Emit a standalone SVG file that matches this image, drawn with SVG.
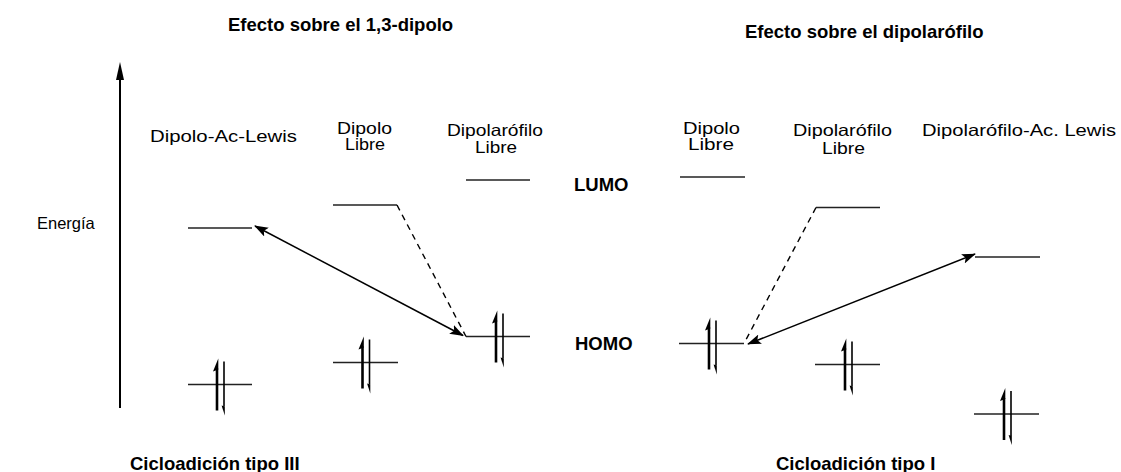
<svg xmlns="http://www.w3.org/2000/svg" width="1121" height="472" viewBox="0 0 1121 472">
  <style>
    .lbl { font-family: "Liberation Sans", Arial, sans-serif; font-size: 16.5px; fill: #000; }
    .ttl { font-family: "Liberation Sans", Arial, sans-serif; font-size: 18.5px; font-weight: bold; fill: #000; }
    .lvl { stroke: #222; stroke-width: 1.4; fill: none; }
    .dash { stroke: #000; stroke-width: 1.4; stroke-dasharray: 6 5; fill: none; }
    .arr { stroke: #000; stroke-width: 1.5; fill: none; }
    .up { stroke: #000; stroke-width: 2.6; }
    .dn { stroke: #000; stroke-width: 1.6; }
  </style>
  <defs>
    <marker id="head" viewBox="0 0 14 10" refX="13" refY="5" markerWidth="14" markerHeight="10" markerUnits="userSpaceOnUse" orient="auto-start-reverse">
      <path d="M0,0 L14,5 L0,10 L3,5 Z" fill="#000"/>
    </marker>
    <!-- electron pair: up and down half-arrows, origin at centre of level line -->
    <g id="pair">
      <line class="up" x1="-3" y1="26" x2="-3" y2="-16"/>
      <polygon points="-1.7,-26 -7,-13 -1.7,-15" fill="#000"/>
      <line class="dn" x1="4" y1="-23" x2="4" y2="22"/>
      <polygon points="4.8,31 1.6,21 4.8,22" fill="#000"/>
    </g>
  </defs>

  <!-- titles -->
  <text class="ttl" x="228" y="31">Efecto sobre el 1,3-dipolo</text>
  <text class="ttl" x="745" y="38">Efecto sobre el dipolarófilo</text>

  <!-- energy axis -->
  <g id="axis">
    <line x1="120" y1="408" x2="120" y2="76" stroke="#000" stroke-width="2"/>
    <polygon points="120,62 116,80 124,80" fill="#000"/>
    <text class="lbl" x="37" y="229">Energía</text>
  </g>

  <!-- column labels -->
  <text class="lbl" x="150" y="142" textLength="147" lengthAdjust="spacingAndGlyphs">Dipolo-Ac-Lewis</text>
  <text class="lbl" x="337" y="134" textLength="55" lengthAdjust="spacingAndGlyphs">Dipolo</text>
  <text class="lbl" x="345" y="150" textLength="40" lengthAdjust="spacingAndGlyphs">Libre</text>
  <text class="lbl" x="447" y="136" textLength="96" lengthAdjust="spacingAndGlyphs">Dipolarófilo</text>
  <text class="lbl" x="475" y="153" textLength="42" lengthAdjust="spacingAndGlyphs">Libre</text>
  <text class="lbl" x="683" y="134" textLength="57" lengthAdjust="spacingAndGlyphs">Dipolo</text>
  <text class="lbl" x="688" y="150" textLength="46" lengthAdjust="spacingAndGlyphs">Libre</text>
  <text class="lbl" x="793" y="136" textLength="99" lengthAdjust="spacingAndGlyphs">Dipolarófilo</text>
  <text class="lbl" x="822" y="154" textLength="43" lengthAdjust="spacingAndGlyphs">Libre</text>
  <text class="lbl" x="922" y="136" textLength="194" lengthAdjust="spacingAndGlyphs">Dipolarófilo-Ac. Lewis</text>

  <text class="ttl" x="574" y="191">LUMO</text>
  <text class="ttl" x="575" y="350">HOMO</text>

  <!-- left: dipole acid-Lewis complex -->
  <g id="dipolo-ac-lewis">
    <line class="lvl" x1="188" y1="228" x2="252" y2="228"/>
    <line class="lvl" x1="188" y1="384.5" x2="252" y2="384.5"/>
    <use href="#pair" x="220" y="384.5"/>
  </g>
  <!-- left: free dipole -->
  <g id="dipolo-libre-1">
    <line class="lvl" x1="333" y1="205" x2="397" y2="205"/>
    <line class="lvl" x1="333" y1="362.5" x2="398" y2="362.5"/>
    <use href="#pair" x="365.5" y="362.5"/>
  </g>
  <!-- left: free dipolarophile -->
  <g id="dipolarofilo-libre-1">
    <line class="lvl" x1="466" y1="180" x2="530" y2="180"/>
    <line class="lvl" x1="466" y1="336.5" x2="530" y2="336.5"/>
    <use href="#pair" x="499" y="336.5"/>
  </g>
  <!-- right: free dipole -->
  <g id="dipolo-libre-2">
    <line class="lvl" x1="680" y1="177" x2="745" y2="177"/>
    <line class="lvl" x1="679" y1="343.5" x2="744" y2="343.5"/>
    <use href="#pair" x="712" y="343.5"/>
  </g>
  <!-- right: free dipolarophile -->
  <g id="dipolarofilo-libre-2">
    <line class="lvl" x1="816" y1="207.5" x2="880" y2="207.5"/>
    <line class="lvl" x1="815" y1="364.5" x2="880" y2="364.5"/>
    <use href="#pair" x="848" y="364.5"/>
  </g>
  <!-- right: dipolarophile acid-Lewis complex -->
  <g id="dipolarofilo-ac-lewis">
    <line class="lvl" x1="975" y1="257" x2="1040" y2="257"/>
    <line class="lvl" x1="974" y1="414" x2="1039" y2="414"/>
    <use href="#pair" x="1007" y="414"/>
  </g>

  <!-- connectors -->
  <g id="connectors">
    <line class="dash" x1="397" y1="205" x2="466" y2="336.5"/>
    <line class="arr" x1="255" y1="226" x2="463" y2="335.5" marker-start="url(#head)" marker-end="url(#head)"/>
    <line class="dash" x1="816" y1="207.5" x2="744" y2="343.5"/>
    <line class="arr" x1="748" y1="344" x2="975" y2="254" marker-start="url(#head)" marker-end="url(#head)"/>
  </g>

  <!-- bottom captions -->
  <text class="ttl" x="130" y="470">Cicloadición tipo III</text>
  <text class="ttl" x="776" y="470">Cicloadición tipo I</text>
</svg>
